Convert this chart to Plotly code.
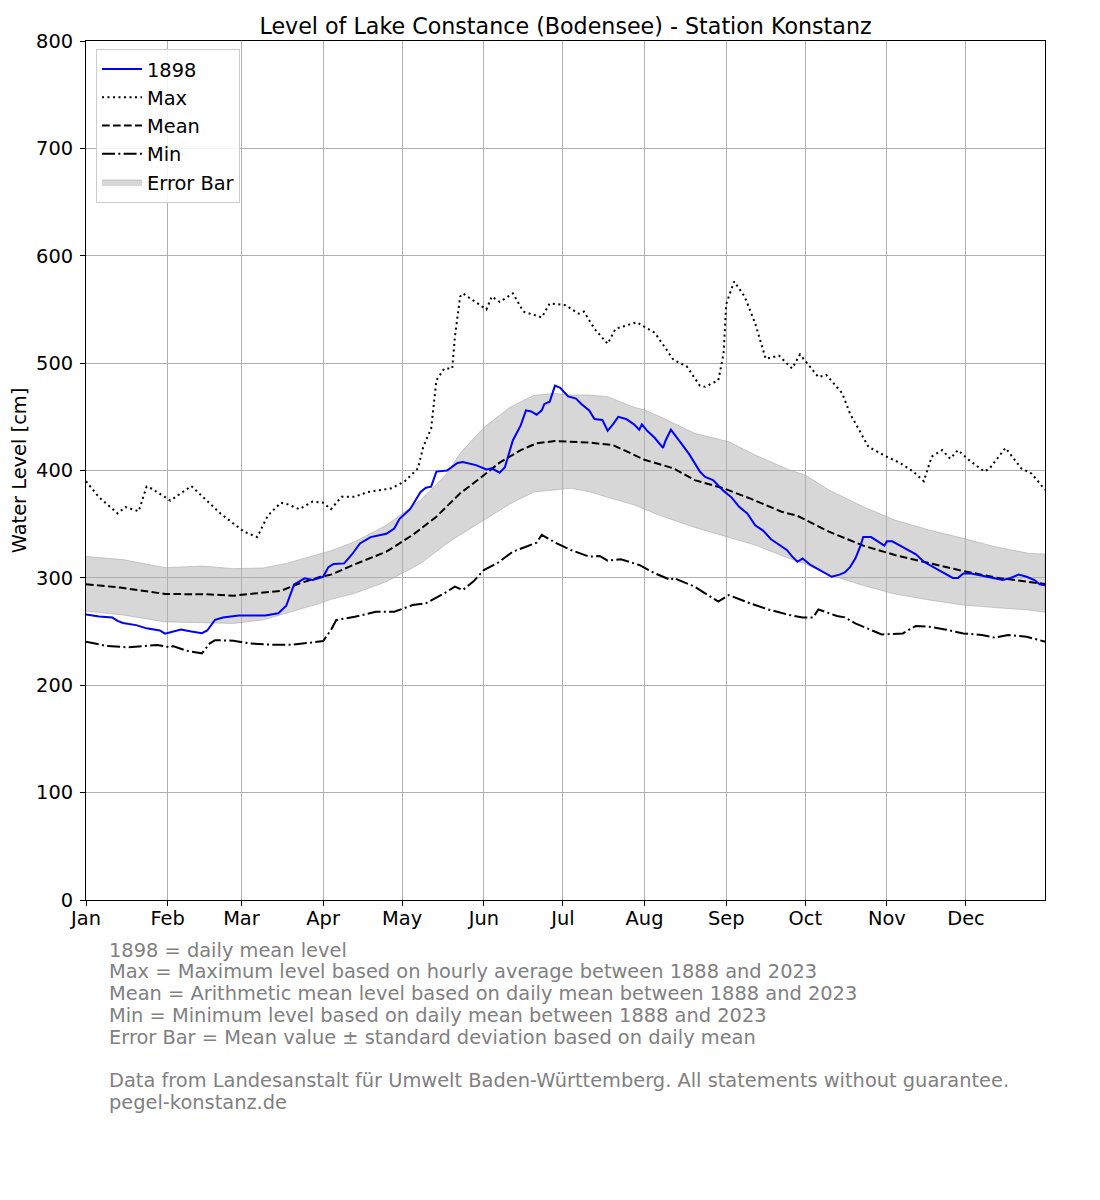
import plotly.graph_objects as go

# ---------------- data ----------------
month_ticks = [0, 31, 59, 90, 120, 151, 181, 212, 243, 273, 304, 334]
month_labels = ["Jan", "Feb", "Mar", "Apr", "May", "Jun", "Jul", "Aug", "Sep", "Oct", "Nov", "Dec"]

days_1898 = [0, 5, 10, 12, 14, 19, 23, 28, 30, 33, 36, 40, 44, 46, 49, 52, 58, 68, 73, 76, 79, 83, 86, 90,
             92, 94, 98, 101, 104, 108, 114, 117, 119, 123, 127, 129, 131, 133, 137, 141, 143, 148, 150,
             152, 154, 157, 159, 162, 165, 167, 169, 171, 173, 174, 176, 178, 180, 183, 186, 188, 191,
             193, 196, 198, 200, 202, 205, 208, 210, 211, 213, 216, 219, 220, 222, 224, 226, 229, 231,
             233, 235, 238, 242, 245, 248, 251, 254, 257, 260, 263, 266, 268, 270, 272, 275, 278, 281,
             283, 286, 288, 290, 292, 294, 295, 298, 301, 303, 304, 306, 309, 312, 315, 318, 321, 324,
             327, 329, 331, 333, 336, 340, 344, 348, 351, 354, 357, 360, 362, 364]
level_1898 = [266, 264, 263, 260, 258, 256, 253, 251, 248, 250, 252, 250, 248.5, 251, 261, 263, 265, 265,
              267, 274, 294, 299.6, 298, 301, 310, 313, 313.5, 322, 332, 338, 341, 346, 355, 364, 380,
              384, 385, 399, 400, 407, 408, 405, 403, 401, 402, 398, 403, 428, 442, 456, 455, 452, 456,
              462, 464, 479, 477, 469, 467, 462, 456, 448, 447, 437, 443, 450, 448, 443, 438, 443, 437,
              430, 421, 428, 438, 432, 425, 415, 407, 399, 394, 391, 381, 375, 366, 360, 349, 344, 336,
              331, 326, 320, 315, 318, 312, 308, 304, 301, 303, 305, 310, 318, 330, 338, 338, 333, 330,
              334, 334, 330, 326, 322, 315, 311, 307, 303, 300, 300, 304, 304, 302, 300, 298, 300, 303,
              301, 298, 294, 293]

days_max = [0, 5, 12, 15, 20, 23, 25, 32, 40, 45, 51, 60, 65, 69, 74, 76, 81, 86, 90, 93, 97, 102, 107,
            116, 121, 126, 128, 131, 133, 136, 139, 140, 142, 143, 148, 152, 154, 157, 162, 166, 173,
            176, 182, 187, 189, 193, 198, 201, 209, 216, 223, 228, 233, 235, 240, 242, 243, 246, 250,
            254, 258, 263, 268, 271, 278, 281, 287, 290, 297, 303, 309, 314, 318, 321, 325, 328, 331,
            335, 341, 343, 349, 355, 359, 364]
level_max = [390, 375, 360, 366, 362, 385, 383, 372, 385.5, 374, 360, 343, 338, 358, 370, 369, 364, 371,
             370, 364, 375.6, 375.6, 380, 383.4, 390, 402, 422, 439, 484, 495, 495, 524, 562, 565, 557,
             550, 562, 557, 565, 548, 542.6, 555.6, 554, 546, 548, 532, 518, 532, 538, 528, 503, 497,
             479, 478, 484, 509, 555, 576, 562, 537, 504, 507, 495, 508, 487, 489, 472, 453, 422, 414,
             407, 399, 390, 413, 419, 411, 419, 410, 399, 402, 421, 402, 397, 382]

days_mean = [0, 13, 30, 46, 56, 66, 74, 81, 89, 93, 102, 114, 124, 133, 142, 150, 157, 165, 171, 178,
             184, 191, 200, 212, 223, 231, 242, 252, 264, 270, 282, 295, 307, 320, 333, 345, 358, 364]
level_mean = [294, 291, 285, 284.7, 283.4, 285.6, 288, 294.8, 301, 303, 312.6, 324.4, 340, 357, 378.7,
              393.7, 407.3, 419, 425.3, 427.5, 426.8, 426, 423.7, 410, 402, 391, 383.4, 374, 361.6,
              357.8, 343, 330, 321.3, 313.5, 306.4, 300.4, 296.5, 294.3]

days_min = [0, 8, 16, 27, 32, 33, 38, 44, 47, 49, 56, 62, 70, 78, 85, 90, 93, 95, 102, 110, 117, 124,
            129, 136, 140, 143, 147, 151, 156, 162, 167, 171, 173, 178, 184, 191, 195, 198, 203, 210,
            216, 222, 223, 231, 240, 244, 252, 259, 267, 272, 276, 278, 285, 288, 292, 302, 310, 315,
            320, 326, 333, 340, 345, 350, 357, 364]
level_min = [240.6, 236.5, 235.3, 237.5, 235.3, 236.5, 232.2, 229.7, 239, 242, 241.5, 239, 237.8, 237.8,
             239.6, 241.2, 251.5, 260.8, 263.8, 268.4, 268.4, 274.7, 276.3, 285.6, 291.8, 288.7, 296.5,
             307.3, 313.5, 324.4, 329, 332.8, 340, 333, 326, 319.7, 320.4, 316, 317.3, 312, 304.2, 298,
             300, 291.8, 277.9, 284, 276.3, 270.6, 265.4, 263.2, 263.2, 270.6, 264.5, 263.2, 257.6,
             247.3, 248.3, 255.2, 254.5, 252, 248.3, 246.8, 244.3, 246.8, 245.2, 240.6]

days_band = [0, 14, 30, 44, 56, 67, 76, 89, 93, 102, 114, 127, 137, 142, 151, 161, 170, 178, 184, 191,
             198, 208, 212, 218, 231, 244, 254, 267, 273, 282, 295, 307, 320, 333, 345, 358, 364]
band_upper = [320, 317, 309.5, 311, 308.6, 309.2, 313.5, 322.8, 325.3, 333.7, 349, 372.5, 397, 416, 440,
              459, 470, 471.8, 470.3, 470.3, 468.7, 459, 456.3, 450, 434.6, 426.8, 414.4, 400.5, 395.8,
              381.8, 366.3, 353.9, 344.6, 336.8, 329, 322.8, 322.2]
band_lower = [269, 265.5, 259, 258.5, 257.6, 260.8, 267, 276.5, 280, 285.6, 296.5, 313.5, 332, 340, 354,
              369, 380, 382, 383.4, 380.3, 375, 368, 364, 358, 347, 338, 330.6, 318, 313, 303, 293, 285,
              279.4, 274.7, 272.3, 270.1, 268]

footnote_lines = [
    "1898 = daily mean level",
    "Max = Maximum level based on hourly average between 1888 and 2023",
    "Mean = Arithmetic mean level based on daily mean between 1888 and 2023",
    "Min = Minimum level based on daily mean between 1888 and 2023",
    "Error Bar = Mean value \u00b1 standard deviation based on daily mean",
    "",
    "Data from Landesanstalt f\u00fcr Umwelt Baden-W\u00fcrttemberg. All statements without guarantee.",
    "pegel-konstanz.de",
]

# ---------------- figure ----------------
FONT = "DejaVu Sans"
FS = 19.4          # 14 pt at 100 dpi
FS_TITLE = 22.2    # 16 pt at 100 dpi
PAGE_OFF = 8       # default body margin of the html page
W, H = 1100 - PAGE_OFF, 1200 - PAGE_OFF
ML, MR, MT, MB = 86 - PAGE_OFF, 55, 41 - PAGE_OFF, 300
plot_w = W - ML - MR
plot_h = H - MT - MB
PLOT_LEFT, PLOT_BOTTOM = 86, 900   # page pixel coordinates of the axes box


def px_x(x):
    return (x - PLOT_LEFT) / plot_w


def px_y(y):
    return (PLOT_BOTTOM - y) / plot_h


fig = go.Figure()

# error band as one closed polygon: upper edge forward, lower edge backward
band_x = days_band + days_band[::-1]
band_y = band_upper + band_lower[::-1]
fig.add_trace(go.Scatter(x=band_x, y=band_y, mode="lines", fill="toself",
                         fillcolor="rgba(175,175,175,0.5)",
                         line=dict(color="rgba(150,150,150,0.45)", width=1),
                         name="Error Bar", legendrank=5, hoverinfo="skip"))
fig.add_trace(go.Scatter(x=days_max, y=level_max, mode="lines", name="Max",
                         line=dict(color="black", width=2, dash="2px,3.5px"), legendrank=2))
fig.add_trace(go.Scatter(x=days_mean, y=level_mean, mode="lines", name="Mean",
                         line=dict(color="black", width=2, dash="7.7px,3.3px"), legendrank=3))
fig.add_trace(go.Scatter(x=days_min, y=level_min, mode="lines", name="Min",
                         line=dict(color="black", width=2, dash="13px,3.3px,2px,3.3px"), legendrank=4))
fig.add_trace(go.Scatter(x=days_1898, y=level_1898, mode="lines", name="1898",
                         line=dict(color="#0000ff", width=2), legendrank=1))

annotations = []
line_y0 = 950   # page y of the centre of the first footnote line
line_step = 21.8
for i, txt in enumerate(footnote_lines):
    if not txt:
        continue
    annotations.append(dict(
        text=txt, xref="paper", yref="paper",
        x=px_x(107), y=px_y(line_y0 + i * line_step),
        xanchor="left", yanchor="middle", showarrow=False,
        font=dict(family=FONT, size=FS, color="#808080"), align="left"))

fig.update_layout(
    width=W, height=H,
    margin=dict(l=ML, r=MR, t=MT, b=MB, autoexpand=False),
    paper_bgcolor="white", plot_bgcolor="white",
    font=dict(family=FONT, size=FS, color="black"),
    title=dict(text="Level of Lake Constance (Bodensee) - Station Konstanz",
               x=(ML + plot_w / 2) / W, xanchor="center", y=1 - (26 - PAGE_OFF) / H, yanchor="middle",
               font=dict(family=FONT, size=FS_TITLE, color="black")),
    showlegend=True,
    legend=dict(x=px_x(96), y=px_y(49), xanchor="left", yanchor="top",
                traceorder="normal",
                bgcolor="rgba(255,255,255,0.85)", bordercolor="#cccccc", borderwidth=1,
                font=dict(family=FONT, size=FS, color="black"), itemwidth=40,
                tracegroupgap=0),
    annotations=annotations,
    xaxis=dict(range=[0, 364], tickmode="array", tickvals=month_ticks, ticktext=month_labels,
               automargin=False,
               showgrid=True, gridcolor="#b0b0b0", gridwidth=1, zeroline=False,
               showline=True, linecolor="black", linewidth=1, mirror=True,
               ticks="outside", ticklen=5, tickcolor="black", ticklabelstandoff=-4,
               tickfont=dict(family=FONT, size=FS, color="black")),
    yaxis=dict(range=[0, 800], tickmode="linear", tick0=0, dtick=100,
               automargin=False,
               showgrid=True, gridcolor="#b0b0b0", gridwidth=1, zeroline=False,
               showline=True, linecolor="black", linewidth=1, mirror=True,
               ticks="outside", ticklen=5, tickcolor="black", ticklabelstandoff=3,
               tickfont=dict(family=FONT, size=FS, color="black"),
               title=dict(text="Water Level [cm]", standoff=5,
                          font=dict(family=FONT, size=FS, color="black"))),
)

fig.write_html("out.html")
